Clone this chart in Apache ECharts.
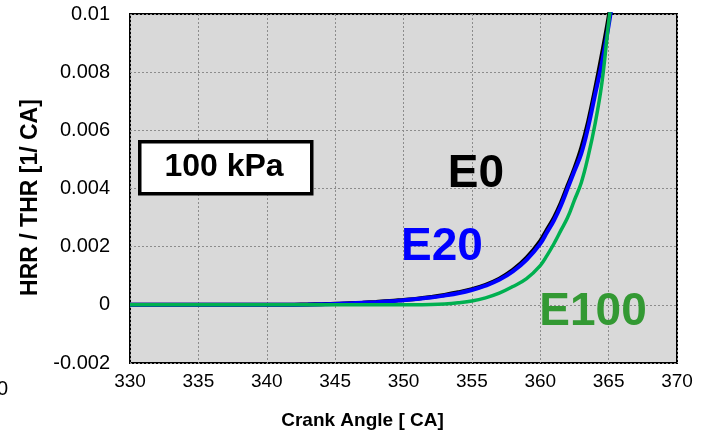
<!DOCTYPE html>
<html>
<head>
<meta charset="utf-8">
<script src="https://cdn.jsdelivr.net/npm/echarts@6/dist/echarts.min.js"></script>
<style>
  html, body { margin: 0; padding: 0; background: #ffffff; }
  #chart { width: 704px; height: 431px; }
</style>
</head>
<body>
<div id="chart"></div>
<script>
// Crank angle samples [deg CA]
const crankAngle = [330, 340, 342, 343, 344, 345, 346, 347, 348, 349, 350, 351, 352, 353, 354,
                    355, 356, 357, 358, 359, 360, 360.5, 361, 361.5, 362, 362.5, 363, 363.5,
                    364, 364.5, 365, 365.2];
// Normalised heat release rate HRR / THR [1/deg CA]
const hrrE0   = [0, 0, 0.000006, 0.000012, 0.000022, 0.000034, 0.000054, 0.000075, 0.0001, 0.00013, 0.00017,
                 0.00021, 0.00027, 0.00034, 0.00043, 0.00054, 0.00069, 0.0009, 0.0012, 0.00162, 0.0022,
                 0.0026, 0.0030, 0.0035, 0.0041, 0.0047, 0.0054, 0.0063, 0.0074, 0.0086, 0.0099, 0.0106];
const hrrE20  = [0, 0, 0.000005, 0.00001, 0.00002, 0.00003, 0.00005, 0.00007, 0.00009, 0.00012, 0.00016,
                 0.0002, 0.00025, 0.00032, 0.0004, 0.00051, 0.00066, 0.00086, 0.00115, 0.00155, 0.0021,
                 0.0025, 0.0029, 0.0034, 0.0040, 0.0046, 0.0052, 0.0061, 0.0072, 0.0083, 0.0096, 0.0102];
const hrrE100 = [0, 0, 0, 0, 0, 0, 0, 0, 0, 0, 0,
                 0.000005, 0.00001, 0.00003, 0.00007, 0.00013, 0.00024, 0.0004, 0.00063, 0.0009, 0.00135,
                 0.0017, 0.0021, 0.00255, 0.0030, 0.0036, 0.0042, 0.0051, 0.0062, 0.0076, 0.0097, 0.0104];

const xTicks = { min: 330, max: 370, step: 5 };
const yTicks = { min: -0.002, max: 0.01, step: 0.002 };

const pairs = (vals) => crankAngle.map((x, i) => [x, vals[i]]);

const chart = echarts.init(document.getElementById('chart'), null, { renderer: 'canvas' });
const FONT = 'Liberation Sans, Arial, sans-serif';

const gridLine = { show: true, lineStyle: { color: '#8c8c8c', width: 1, type: [2, 2] } };

chart.setOption({
  animation: false,
  backgroundColor: '#ffffff',
  grid: {
    left: 130, right: 27, top: 14, bottom: 68,
    outerBoundsMode: 'none', containLabel: false,
    show: true, backgroundColor: '#d9d9d9', borderColor: '#000000', borderWidth: 2
  },
  xAxis: {
    type: 'value',
    min: xTicks.min, max: xTicks.max, interval: xTicks.step,
    axisLine: { show: false }, axisTick: { show: false },
    splitLine: gridLine,
    axisLabel: { color: '#000', fontFamily: FONT, fontSize: 19, margin: 9 },
    name: 'Crank Angle [ CA]',
    nameLocation: 'middle', nameGap: 48,
    nameTextStyle: { color: '#000', fontFamily: FONT, fontSize: 19, fontWeight: 'bold',
                     padding: [0, 82, 0, 0] }
  },
  yAxis: {
    type: 'value',
    min: yTicks.min, max: yTicks.max, interval: yTicks.step,
    axisLine: { show: false }, axisTick: { show: false },
    splitLine: gridLine,
    axisLabel: { color: '#000', fontFamily: FONT, fontSize: 20, margin: 20,
                 formatter: (v) => String(parseFloat(v.toFixed(3))) },
    name: 'HRR / THR [1/ CA]',
    nameLocation: 'middle', nameGap: 84, nameRotate: 90,
    nameTextStyle: { color: '#000', fontFamily: FONT, fontSize: 23, fontWeight: 'bold',
                     padding: [0, 18, 0, 0] }
  },
  series: [
    { name: 'E0', type: 'line', data: pairs(hrrE0), showSymbol: false, smooth: 0.4,
      clip: true, lineStyle: { color: '#000000', width: 4 }, z: 2 },
    { name: 'E20', type: 'line', data: pairs(hrrE20), showSymbol: false, smooth: 0.4,
      clip: true, lineStyle: { color: '#0000ff', width: 4 }, z: 3 },
    { name: 'E100', type: 'line', data: pairs(hrrE100), showSymbol: false, smooth: 0.4,
      clip: true, lineStyle: { color: '#00b050', width: 3.5 }, z: 4 }
  ],
  graphic: [
    { type: 'rect', left: 138, top: 140, z: 10,
      shape: { width: 172, height: 52 },
      style: { fill: '#ffffff', stroke: '#000000', lineWidth: 3.5 } },
    { type: 'text', x: 224, y: 167, z: 11,
      style: { text: '100 kPa', fill: '#000', font: 'bold 32px ' + FONT, align: 'center', verticalAlign: 'middle' } },
    { type: 'text', x: 476, y: 174, z: 11,
      style: { text: 'E0', fill: '#000000', font: 'bold 46px ' + FONT, align: 'center', verticalAlign: 'middle' } },
    { type: 'text', x: 442, y: 247, z: 11,
      style: { text: 'E20', fill: '#0000ff', font: 'bold 46px ' + FONT, align: 'center', verticalAlign: 'middle' } },
    { type: 'text', x: 593, y: 312, z: 11,
      style: { text: 'E100', fill: '#339933', font: 'bold 46px ' + FONT, align: 'center', verticalAlign: 'middle' } },
    { type: 'text', x: 8, y: 389, z: 11,
      style: { text: '0', fill: '#000', font: '20px ' + FONT, align: 'right', verticalAlign: 'middle' } }
  ]
});
</script>
</body>
</html>
